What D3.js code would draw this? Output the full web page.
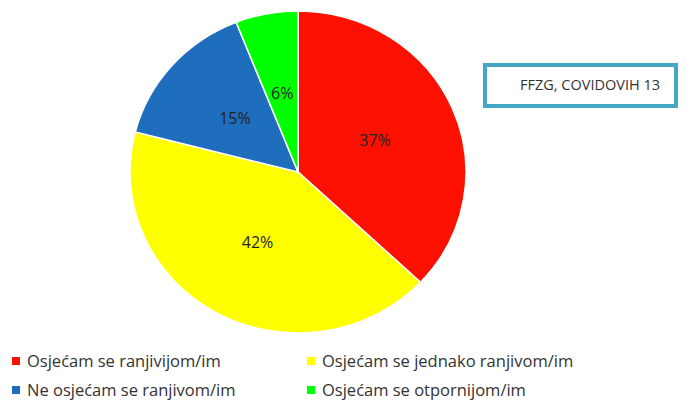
<!DOCTYPE html>
<html>
<head>
<meta charset="utf-8">
<script src="https://cdn.jsdelivr.net/npm/d3@7"></script>
<style>
  body { margin: 0; background: #fff; }
  svg { display: block; font-family: "Open Sans", "Liberation Sans", sans-serif; }
</style>
</head>
<body>
<div id="chart"></div>
<script>
var categories = ["Osjećam se ranjivijom/im", "Osjećam se jednako ranjivom/im", "Ne osjećam se ranjivom/im", "Osjećam se otpornijom/im"];
var values = [37, 42, 15, 6];
var colors = ["#fe1000", "#ffff00", "#1f6ebe", "#00ff00"];
var boxLabel = "FFZG, COVIDOVIH 13";

var width = 686, height = 402;
var cx = 298, cy = 172, ry = 161, rx = 168;

var svg = d3.select("#chart").append("svg")
    .attr("width", width)
    .attr("height", height);

var pie = d3.pie().sort(null).value(function (d) { return d; });
var arcs = pie(values);
var arc = d3.arc().innerRadius(0).outerRadius(ry);
var labelArc = d3.arc().innerRadius(ry * 0.5).outerRadius(ry * 0.5);

// pie is slightly wider than tall in the original
var g = svg.append("g")
    .attr("transform", "translate(" + cx + "," + cy + ") scale(" + (rx / ry) + ",1)");

g.selectAll("path")
    .data(arcs)
    .enter()
    .append("path")
    .attr("d", arc)
    .attr("fill", function (d, i) { return colors[i]; })
    .attr("stroke", "#fff")
    .attr("stroke-width", 1.5)
    .attr("vector-effect", "non-scaling-stroke");

svg.append("g")
    .selectAll("text")
    .data(arcs)
    .enter()
    .append("text")
    .attr("x", function (d) { return cx + labelArc.centroid(d)[0] * rx / ry; })
    .attr("y", function (d) { return cy + labelArc.centroid(d)[1]; })
    .attr("dy", "0.35em")
    .attr("text-anchor", "middle")
    .style("font-size", "16px")
    .style("fill", "#222")
    .text(function (d) { return d.data + "%"; });

// title box
svg.append("rect")
    .attr("x", 485)
    .attr("y", 65)
    .attr("width", 191)
    .attr("height", 41)
    .attr("fill", "#fff")
    .attr("stroke", "#45a8c2")
    .attr("stroke-width", 4);

svg.append("text")
    .attr("x", 590)
    .attr("y", 85)
    .attr("dy", "0.35em")
    .attr("text-anchor", "middle")
    .style("font-size", "14.5px")
    .style("fill", "#333")
    .text(boxLabel);

// legend
var legendPos = [[12, 361], [307, 361], [12, 390], [307, 390]];
var legend = svg.append("g")
    .selectAll("g")
    .data(categories)
    .enter()
    .append("g")
    .attr("transform", function (d, i) { return "translate(" + legendPos[i][0] + "," + legendPos[i][1] + ")"; });

legend.append("rect")
    .attr("x", 0)
    .attr("y", -4)
    .attr("width", 8)
    .attr("height", 8)
    .attr("fill", function (d, i) { return colors[i]; });

legend.append("text")
    .attr("x", 15)
    .attr("y", 0)
    .attr("dy", "0.35em")
    .style("font-size", "16.5px")
    .style("fill", "#333")
    .text(function (d) { return d; });
</script>
</body>
</html>
